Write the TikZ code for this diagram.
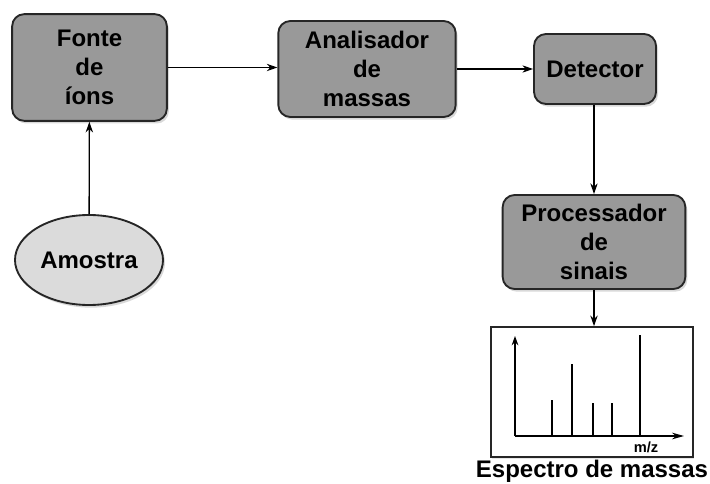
\documentclass[tikz,border=0pt]{standalone}
\usepackage{fontspec}
\setmainfont{Liberation Sans}
\usetikzlibrary{shapes.geometric,shadows,arrows.meta}

\tikzset{
  block/.style={draw=black!85, line width=1.4pt, fill=black!40, rounded corners=9pt,
    align=center, inner sep=0pt, font=\bfseries\fontsize{18}{21.5}\selectfont,
    drop shadow={shadow xshift=1.5pt, shadow yshift=-2pt, opacity=0.3}},
  sample/.style={ellipse, draw=black!85, line width=1.4pt, fill=black!14, inner sep=0pt,
    font=\bfseries\fontsize{18}{21.5}\selectfont,
    drop shadow={shadow xshift=1.5pt, shadow yshift=-2pt, opacity=0.3}},
  flow/.style={line width=1pt, -{Stealth[length=8pt,width=5.5pt]}},
}

\begin{document}
\begin{tikzpicture}[x=0.75pt, y=-0.75pt]
\useasboundingbox (0,0) rectangle (710,484);

% Blocks of the spectrometer
\node[block, minimum width=116pt, minimum height=80pt] (fonte) at (89.5,67.5) {Fonte\\de\\íons};
\node[block, minimum width=133pt, minimum height=72pt] (analisador) at (367,69) {Analisador\\de\\massas};
\node[block, minimum width=91.5pt, minimum height=52.5pt] (detector) at (595,69) {Detector};
\node[block, minimum width=137pt, minimum height=70.5pt] (processador) at (594,242) {Processador\\de\\sinais};

% Sample
\node[sample, minimum width=111pt, minimum height=67.5pt] (amostra) at (89,260) {Amostra};

% Spectrum box and caption
\node[draw=black!85, line width=1.2pt, fill=white, minimum width=151.5pt, minimum height=97.5pt,
  drop shadow={shadow xshift=1pt, shadow yshift=-1.5pt, opacity=0.2}] (espectro) at (592,392) {};
\node[font=\bfseries\fontsize{18}{21.5}\selectfont] (legenda) at (592,471) {Espectro de massas};

% Axes and peaks
\coordinate (origem) at (515,436);
\draw[line width=1pt, -{Stealth[length=7pt,width=5pt]}] (origem) -- (515,336);
\draw[line width=1pt, -{Stealth[length=9pt,width=5pt]}] (origem) -- (684,436);
\foreach \x/\h in {552/400, 572/364, 593/403, 612/403, 640/335}
  \draw[line width=1.1pt] (\x,436) -- (\x,\h);
\node[font=\bfseries\fontsize{11}{13}\selectfont] (mz) at (646,447) {m/z};

% Connectors
\draw[flow] (amostra) -- (fonte);
\draw[flow] (fonte.east) -- (fonte.east -| analisador.west);
\draw[flow] (analisador.east) -- (detector.west |- analisador.east);
\draw[flow] (detector.south -| processador.north) -- (processador.north);
\draw[flow] (processador.south) -- (processador.south |- espectro.north);

\end{tikzpicture}
\end{document}
